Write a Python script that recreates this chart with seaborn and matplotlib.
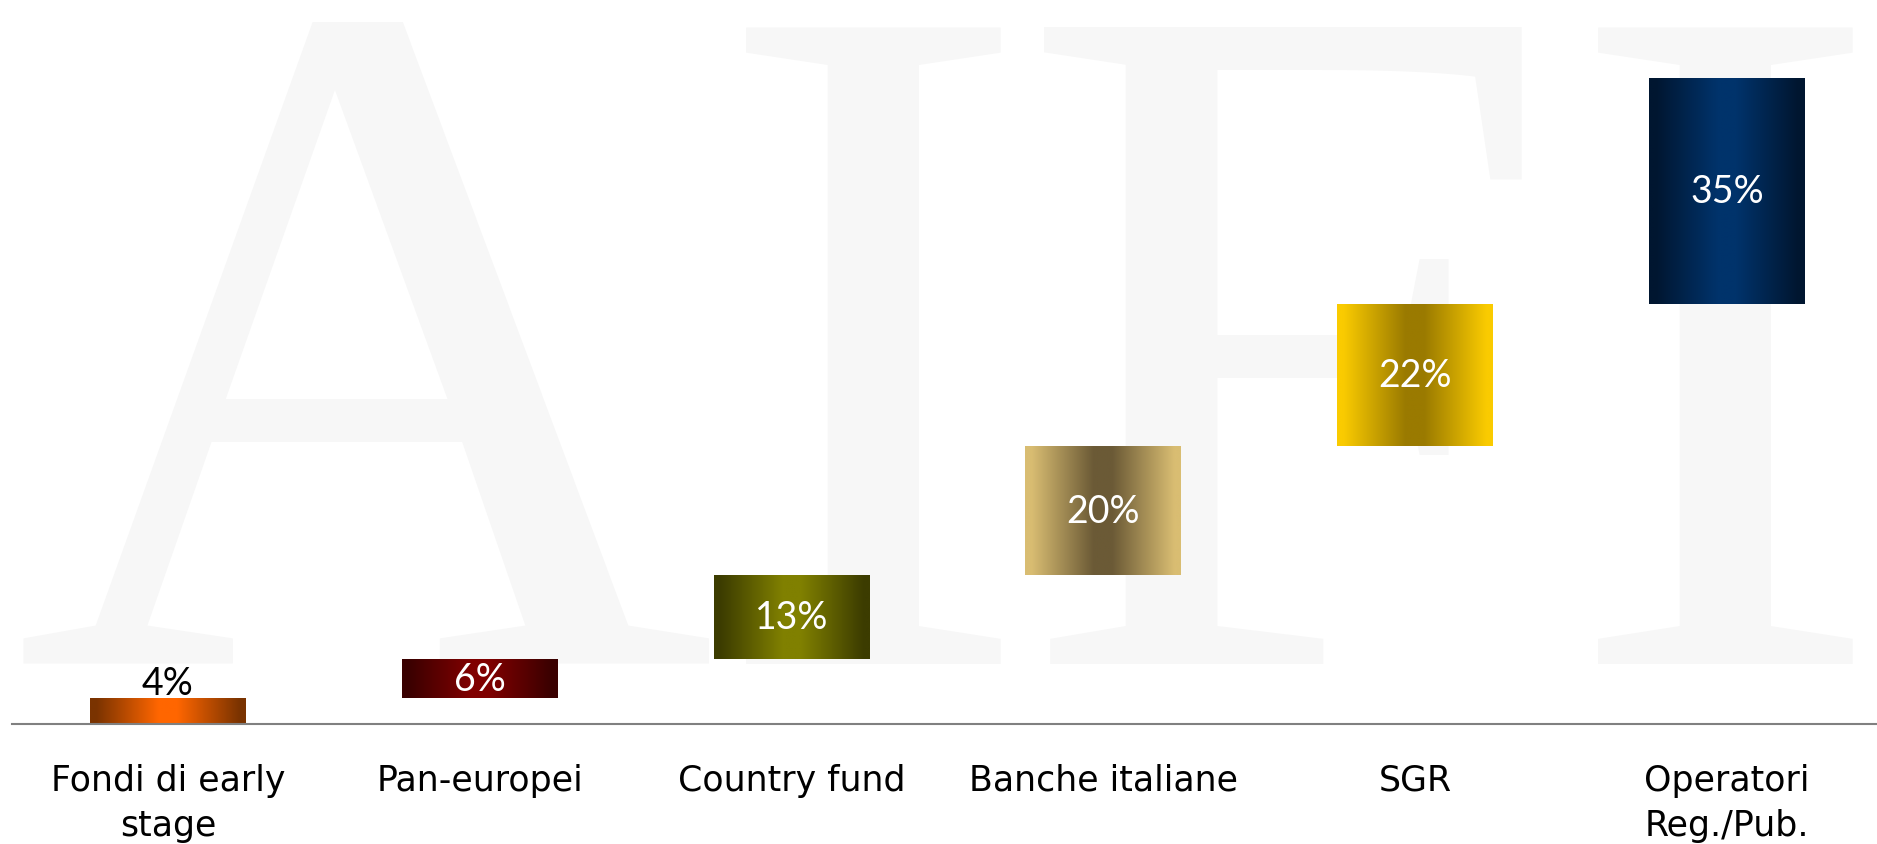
import numpy as np
import pandas as pd
import matplotlib
matplotlib.use("Agg")
import matplotlib.pyplot as plt
from matplotlib.colors import to_rgb
import seaborn as sns

# Chart data
categories = ["Fondi di early\nstage", "Pan-europei", "Country fund",
              "Banche italiane", "SGR", "Operatori\nReg./Pub."]
shares = [4, 6, 13, 20, 22, 35]
edge_colors = ["#7a3300", "#3a0000", "#3c3c00", "#d9bd72", "#facb00", "#001630"]
center_colors = ["#ff6600", "#800000", "#808000", "#6b5a36", "#9a7a00", "#00336b"]
watermark = ["A", "I", "F", "I"]

sns.set_theme(style="white")
plt.rcParams["font.family"] = ["DejaVu Sans"]

tops = np.cumsum(shares)
starts = tops - np.array(shares)

W, H = 1877, 845
fig = plt.figure(figsize=(W / 100, H / 100), dpi=100)
fig.patch.set_facecolor("white")

# big light watermark behind the chart
wm_x = [365, 873, 1286, 1725]
for letter, x in zip(watermark, wm_x):
    fig.text(x / W, 1 - 664 / H, letter, family=["Liberation Serif", "DejaVu Serif"],
             fontsize=700, color="#f7f7f7", ha="center", va="baseline", zorder=-1)

ax = fig.add_axes([12 / W, 120 / H, 1871 / W, 725 / H])
ax.patch.set_alpha(0)

df = pd.DataFrame({"cat": categories, "top": tops})
sns.barplot(data=df, x="cat", y="top", width=0.5, color="white", ax=ax)

# turn each bar into a floating segment with a horizontal gradient
t = np.linspace(0, 1, 300)
wgt = np.clip((1 - np.abs(2 * t - 1)) * 1.25 - 0.1, 0, 1)
val_font = ["Lato", "DejaVu Sans"]
for i, p in enumerate(ax.patches):
    p.set_y(starts[i])
    p.set_height(shares[i])
    p.set_facecolor("none")
    p.set_edgecolor("none")
    e = np.array(to_rgb(edge_colors[i]))
    c = np.array(to_rgb(center_colors[i]))
    grad = (1 - wgt)[:, None] * e + wgt[:, None] * c
    x0, wd = p.get_x(), p.get_width()
    im = ax.imshow(grad[None, :, :], extent=[x0, x0 + wd, starts[i], tops[i]],
                   aspect="auto", interpolation="bilinear", zorder=2)
    im.set_clip_path(p)
    cx = x0 + wd / 2
    if shares[i] < 5:
        ax.text(cx, tops[i] + 2.4, f"{shares[i]}%", ha="center", va="center",
                fontsize=27, family=val_font, color="black", zorder=3)
    else:
        ax.text(cx, starts[i] + shares[i] / 2, f"{shares[i]}%", ha="center",
                va="center", fontsize=27, family=val_font, color="white", zorder=3)

ax.set_xlim(-0.5, 5.5)
ax.set_ylim(0, 112.2)
ax.set_xlabel("")
ax.set_ylabel("")
ax.set_yticks([])
ax.tick_params(axis="x", length=0, pad=28, labelsize=25, labelcolor="black")
for lbl in ax.get_xticklabels():
    lbl.set_linespacing(1.4)
for s in ["left", "right", "top"]:
    ax.spines[s].set_visible(False)
ax.spines["bottom"].set_color("#808080")
ax.spines["bottom"].set_linewidth(1.5)

fig.savefig("out.png", dpi=100)
